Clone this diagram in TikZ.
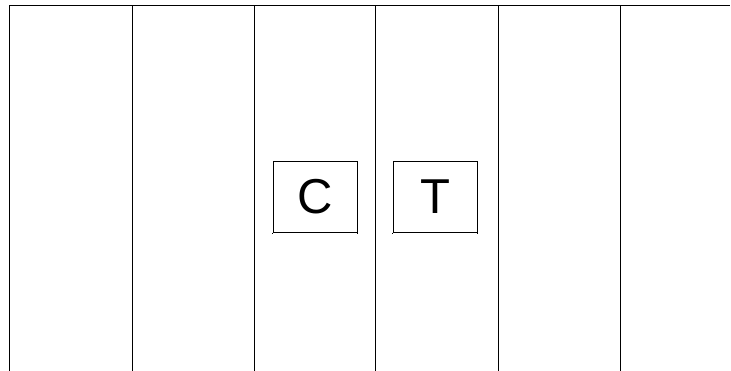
\documentclass[tikz,border=0pt]{standalone}
\usepackage{fontspec}
\setmainfont{Liberation Sans}
\begin{document}
\begin{tikzpicture}[x=1pt,y=-1pt,
  rule/.style={line width=1pt,draw=black},
  letterbox/.style={draw=black,line width=1pt,minimum width=84pt,minimum height=70.5pt,inner sep=0pt,font=\fontsize{49}{49}\selectfont}]
\useasboundingbox (0,0) rectangle (731,371);
\coordinate (tl) at (9.5,5.5);
\coordinate (tr) at (730,5.5);
\draw[rule] (tl) -- (tr);
\foreach \i/\x in {a/9.5,b/132,c/254,d/375.5,e/498,f/620}{
  \coordinate (\i top) at (\x,5.5);
  \coordinate (\i bot) at (\x,371);
  \draw[rule] (\i top) -- (\i bot);
}
\node[letterbox] (C) at (315.3,197) {C};
\node[letterbox] (T) at (435.3,197) {T};
\foreach \n in {C,T}{
  \draw[rule] (\n.south west) -- ++(0,1.5);
  \draw[rule] (\n.south east) -- ++(0,1.5);
}
\end{tikzpicture}
\end{document}
